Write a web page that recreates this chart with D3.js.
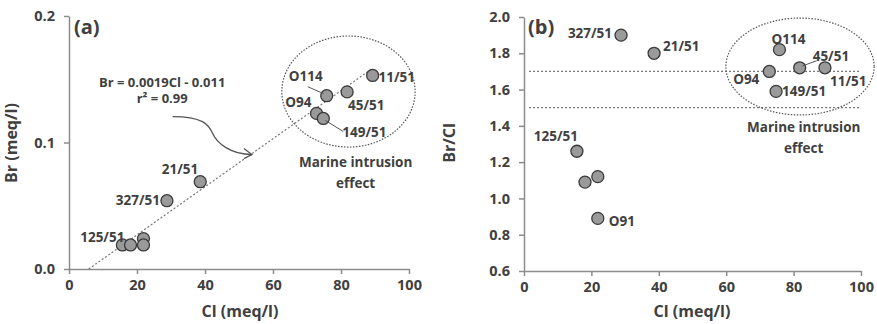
<!DOCTYPE html>
<html>
<head>
<meta charset="utf-8">
<script src="https://cdn.jsdelivr.net/npm/d3@7"></script>
<style>
  body { margin: 0; background: #fff; }
  svg text { font-family: "Open Sans", "Noto Sans", sans-serif; fill: #404040; }
  .tick text { font-weight: 700; font-size: 14.5px; }
  .axis path, .axis line { stroke: #8c8c8c; stroke-width: 1.5; }
  .lbl { font-weight: 700; font-size: 13.5px; }
  .eq { font-weight: 700; font-size: 13px; }
  .ttl { font-weight: 700; font-size: 16px; }
</style>
</head>
<body>
<svg id="chart" width="877" height="324"></svg>
<script>
// values
const samples = ['11/51', '45/51', 'O114', 'O94', '149/51', '21/51', '327/51', '125/51', '', '', 'O91'];
const cl = [89.3, 81.8, 75.8, 72.8, 74.8, 38.6, 28.8, 15.7, 18.1, 21.9, 21.9];
const br = [0.153, 0.140, 0.137, 0.123, 0.119, 0.069, 0.054, 0.019, 0.019, 0.024, 0.019];
const brcl = [1.72, 1.72, 1.82, 1.70, 1.59, 1.80, 1.90, 1.26, 1.09, 1.12, 0.89];

const xTicks = [0, 20, 40, 60, 80, 100];
const brTicks = [0, 0.1, 0.2];
const ratioTicks = [0.6, 0.8, 1.0, 1.2, 1.4, 1.6, 1.8, 2.0];
const ratioBands = [1.7, 1.5];
const fit = { slope: 0.0019, icpt: -0.011, from: 5.8, to: 89.3 };

// label placement: [anchor, dx, dy] per sample, per panel
const labA = {
  '11/51': ['start', 6, 7], '45/51': ['start', 1, 18], 'O114': ['end', -4, -15],
  'O94': ['end', -5, -6], '149/51': ['start', 19, 19], '21/51': ['end', -2, -8],
  '327/51': ['end', -7, 4], '125/51': ['end', 2, -3]
};
const leadA = { 'O114': [-19, -9, -3, -2], '149/51': [2, 2, 20, 13] };
const labB = {
  '327/51': ['end', -9, 3], '21/51': ['start', 9, -2], 'O114': ['middle', 9, -6],
  '45/51': ['start', 13, -7], 'O94': ['end', -10, 13], '11/51': ['start', 5, 18],
  '149/51': ['start', 6, 5], '125/51': ['end', 1, -10], 'O91': ['start', 11, 8]
};
const leadB = { '45/51': [3, -2, 17, -7] };

const svg = d3.select('#chart');
const rows = samples.map((s, i) => ({ name: s, cl: cl[i], br: br[i], r: brcl[i] }));

function panel(xr, yr, ydom, yticks, yfmt, ycol, labs, leads) {
  const x = d3.scaleLinear().domain([0, 100]).range(xr);
  const y = d3.scaleLinear().domain(ydom).range(yr);
  const g = svg.append('g');

  g.append('g').attr('class', 'axis')
    .attr('transform', 'translate(0,' + yr[0] + ')')
    .call(d3.axisBottom(x).tickValues(xTicks).tickSize(5).tickSizeOuter(0).tickPadding(6));
  g.append('g').attr('class', 'axis')
    .attr('transform', 'translate(' + xr[0] + ',0)')
    .call(d3.axisLeft(y).tickValues(yticks).tickFormat(d3.format(yfmt)).tickSize(5).tickSizeOuter(0).tickPadding(9));
  g.selectAll('.tick text').style('fill', '#404040');

  return { x, y, g, draw: function () {
    g.selectAll('.pt').data(rows).enter().append('circle')
      .attr('class', 'pt')
      .attr('cx', d => x(d.cl))
      .attr('cy', d => y(d[ycol]))
      .attr('r', 6)
      .attr('fill', '#9a9a9a')
      .attr('stroke', '#3a3a3a')
      .attr('stroke-width', 1.3);

    rows.filter(d => leads[d.name]).forEach(d => {
      const l = leads[d.name];
      g.append('line')
        .attr('x1', x(d.cl) + l[0]).attr('y1', y(d[ycol]) + l[1])
        .attr('x2', x(d.cl) + l[2]).attr('y2', y(d[ycol]) + l[3])
        .attr('stroke', '#555').attr('stroke-width', 1);
    });

    g.selectAll('.lbl').data(rows.filter(d => labs[d.name])).enter().append('text')
      .attr('class', 'lbl')
      .attr('text-anchor', d => labs[d.name][0])
      .attr('x', d => x(d.cl) + labs[d.name][1])
      .attr('y', d => y(d[ycol]) + labs[d.name][2])
      .text(d => d.name);
  } };
}

function ellipse(p, cx, cy, rx, ry) {
  p.g.append('ellipse')
    .attr('cx', p.x(cx)).attr('cy', p.y(cy))
    .attr('rx', p.x(rx) - p.x(0)).attr('ry', Math.abs(p.y(ry) - p.y(0)))
    .attr('fill', 'none').attr('stroke', '#555').attr('stroke-width', 1.2)
    .attr('stroke-dasharray', '1.5,1.5');
}

function marine(p, cx, y1, y2) {
  p.g.append('text').attr('class', 'lbl').attr('text-anchor', 'middle')
    .attr('x', p.x(cx)).attr('y', p.y(y1)).text('Marine intrusion');
  p.g.append('text').attr('class', 'lbl').attr('text-anchor', 'middle')
    .attr('x', p.x(cx)).attr('y', p.y(y2)).text('effect');
}

// ---------- panel (a)
const pa = panel([69, 409], [269, 16], [0, 0.2], brTicks, '.1f', 'br', labA, leadA);
pa.g.append('line')
  .attr('x1', pa.x(fit.from)).attr('y1', pa.y(fit.slope * fit.from + fit.icpt))
  .attr('x2', pa.x(fit.to)).attr('y2', pa.y(fit.slope * fit.to + fit.icpt))
  .attr('stroke', '#777').attr('stroke-width', 1.2).attr('stroke-dasharray', '2,2');
ellipse(pa, 82.2, 0.1403, 19.6, 0.0439);
pa.draw();
marine(pa, 84.3, 0.0806, 0.064);

pa.g.append('text').attr('class', 'eq').attr('text-anchor', 'middle')
  .attr('x', pa.x(27.4)).attr('y', pa.y(0.1439)).text('Br = 0.0019Cl - 0.011');
pa.g.append('text').attr('class', 'eq').attr('text-anchor', 'middle')
  .attr('x', pa.x(27.4)).attr('y', pa.y(0.131)).text('r² = 0.99');

// curved arrow pointing at the fit line
const a0 = [pa.x(30.5), pa.y(0.1205)], a1 = [pa.x(53.8), pa.y(0.0905)];
pa.g.append('path')
  .attr('d', 'M' + a0 + ' C' + [a0[0] + 30, a0[1]] + ' ' + [a0[0] + 36, a0[1] + 8] + ' ' + [a0[0] + 40, a0[1] + 17] +
    ' S' + [a1[0] - 22, a1[1]] + ' ' + a1)
  .attr('fill', 'none').attr('stroke', '#555').attr('stroke-width', 1.3);
pa.g.append('path')
  .attr('d', 'M' + [a1[0] - 8, a1[1] - 6] + ' L' + a1 + ' L' + [a1[0] - 8, a1[1] + 4])
  .attr('fill', 'none').attr('stroke', '#555').attr('stroke-width', 1.3);

pa.g.append('text').attr('class', 'ttl').attr('text-anchor', 'middle')
  .attr('x', 240).attr('y', 317).text('Cl (meq/l)');
pa.g.append('text').attr('class', 'ttl').attr('text-anchor', 'middle')
  .attr('transform', 'translate(17,143) rotate(-90)').text('Br (meq/l)');
pa.g.append('text').attr('font-weight', 700).attr('font-size', 20)
  .attr('x', 74).attr('y', 34).text('(a)');

// ---------- panel (b)
const pb = panel([524, 861], [271, 17], [0.6, 2.0], ratioTicks, '.1f', 'r', labB, leadB);
pb.g.selectAll('.band').data(ratioBands).enter().append('line')
  .attr('x1', pb.x(1.5)).attr('x2', pb.x(100))
  .attr('y1', d => pb.y(d)).attr('y2', d => pb.y(d))
  .attr('stroke', '#777').attr('stroke-width', 1.2).attr('stroke-dasharray', '2,2');
ellipse(pb, 81.9, 1.727, 22, 0.267);
pb.draw();
marine(pb, 83, 1.366, 1.25);

pb.g.append('text').attr('class', 'ttl').attr('text-anchor', 'middle')
  .attr('x', 692).attr('y', 317).text('Cl (meq/l)');
pb.g.append('text').attr('class', 'ttl').attr('text-anchor', 'middle')
  .attr('transform', 'translate(455,143) rotate(-90)').text('Br/Cl');
pb.g.append('text').attr('font-weight', 700).attr('font-size', 20)
  .attr('x', 528).attr('y', 34).text('(b)');
</script>
</body>
</html>
